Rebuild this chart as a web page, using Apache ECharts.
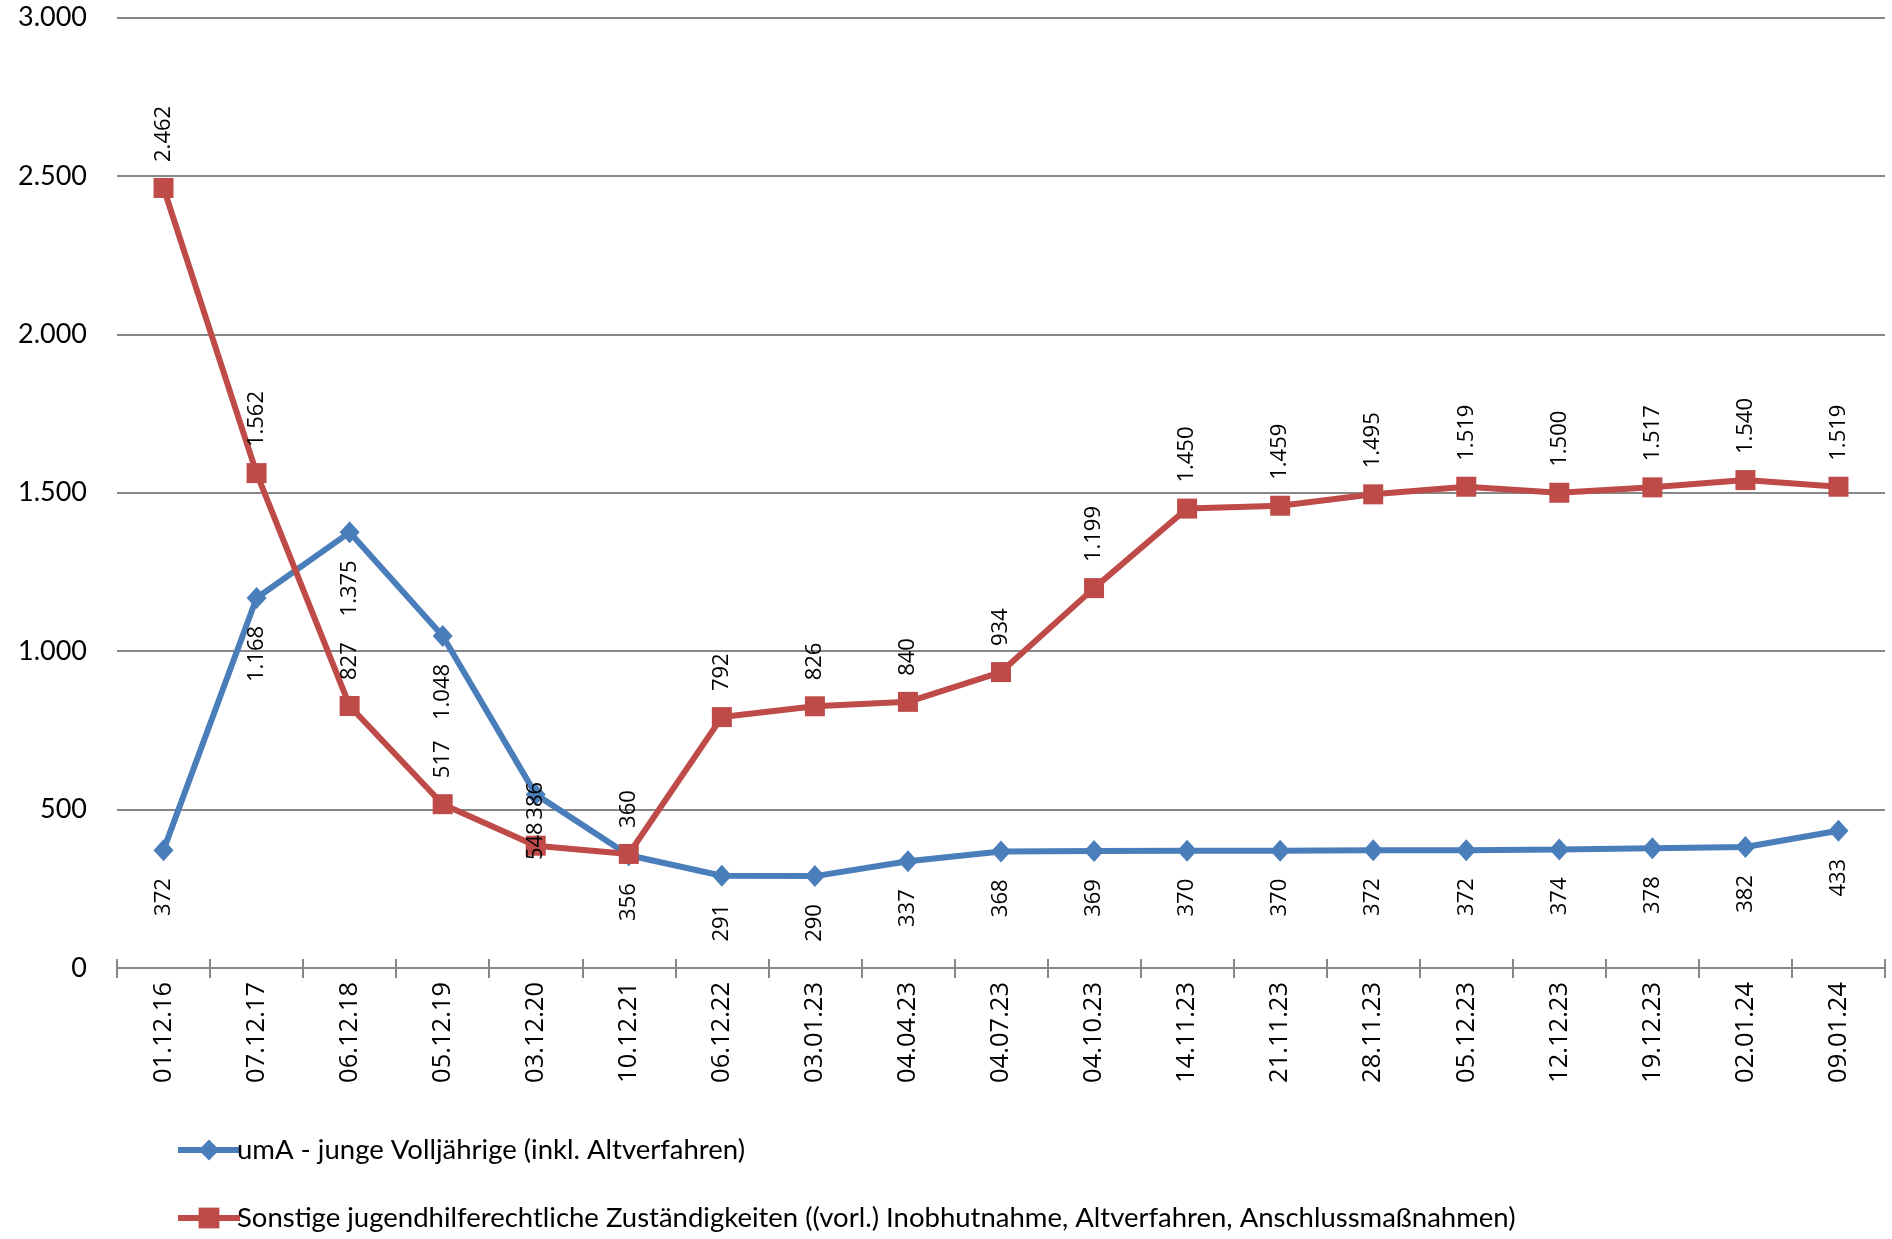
<!DOCTYPE html>
<html><head><meta charset="utf-8">
<script src="https://cdn.jsdelivr.net/npm/echarts@6/dist/echarts.min.js"></script>
<style>html,body{margin:0;padding:0;background:#fff}#c{width:1892px;height:1239px}</style>
</head><body><div id="c"></div>
<script>
const categories = ['01.12.16','07.12.17','06.12.18','05.12.19','03.12.20','10.12.21','06.12.22','03.01.23','04.04.23','04.07.23','04.10.23','14.11.23','21.11.23','28.11.23','05.12.23','12.12.23','19.12.23','02.01.24','09.01.24'];
const umaValues = [372,1168,1375,1048,548,356,291,290,337,368,369,370,370,372,372,374,378,382,433];
const sonstigeValues = [2462,1562,827,517,386,360,792,826,840,934,1199,1450,1459,1495,1519,1500,1517,1540,1519];
const seriesNames = ['umA - junge Volljährige (inkl. Altverfahren)','Sonstige jugendhilferechtliche Zuständigkeiten ((vorl.) Inobhutnahme, Altverfahren, Anschlussmaßnahmen)'];
const yTicks = {min:0, max:3000, interval:500};

function de(v){return String(v).replace(/\B(?=(\d{3})+(?!\d))/g,'.');}
const blue='#4A7EBB', red='#BE4B48';
const chart = echarts.init(document.getElementById('c'));
const baseX = {type:'category', data:categories, boundaryGap:true,
  axisLine:{lineStyle:{color:'#878787', width:2}},
  splitLine:{show:false}};
chart.setOption({
  animation:false,
  grid:{left:117,right:7,top:17.5,bottom:271,containLabel:false},
  xAxis:[
    Object.assign({}, baseX, {
      axisTick:{show:true, length:10, lineStyle:{color:'#878787', width:2}},
      axisLabel:{rotate:90, margin:14, fontFamily:'Open Sans', fontSize:25.5, color:'#000'}
    }),
    Object.assign({}, baseX, {position:'bottom',
      axisTick:{show:true, inside:true, length:9, lineStyle:{color:'#878787', width:2}},
      axisLabel:{show:false}
    })
  ],
  yAxis:{type:'value', min:yTicks.min, max:yTicks.max, interval:yTicks.interval,
    axisLine:{show:false}, axisTick:{show:false},
    splitLine:{lineStyle:{color:'#878787', width:2}},
    axisLabel:{margin:30, fontFamily:'Lato', fontSize:27, color:'#000', formatter:de}},
  legend:{orient:'vertical', left:170, top:1131, itemGap:40, itemWidth:62, itemHeight:26,
    lineStyle:{width:6},
    textStyle:{fontFamily:'Lato', fontSize:27.5, color:'#000', padding:[0,0,0,-8]},
    data:seriesNames},
  series:[
    {name:seriesNames[0], type:'line', data:umaValues, symbol:'diamond', symbolSize:[20,22],
      lineStyle:{color:blue, width:6}, itemStyle:{color:blue},
      label:{show:true, position:'bottom', distance:17, rotate:90, align:'right', verticalAlign:'middle',
        fontFamily:'Open Sans', fontSize:22, color:'#000', formatter:p=>de(p.value)}},
    {name:seriesNames[1], type:'line', data:sonstigeValues, symbol:'rect', symbolSize:20,
      lineStyle:{color:red, width:6}, itemStyle:{color:red},
      label:{show:true, position:'top', distance:16, rotate:90, align:'left', verticalAlign:'middle',
        fontFamily:'Open Sans', fontSize:22, color:'#000', formatter:p=>de(p.value)}}
  ]
});
</script></body></html>
